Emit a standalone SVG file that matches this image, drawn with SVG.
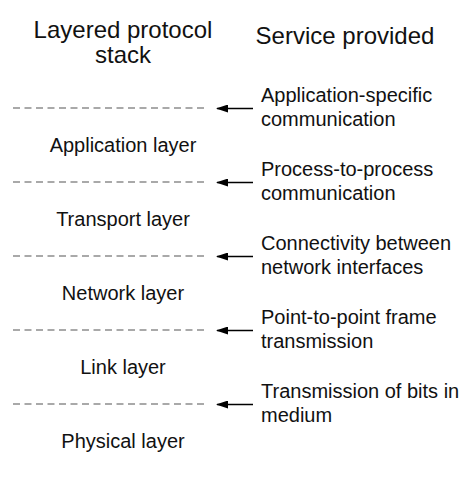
<svg xmlns="http://www.w3.org/2000/svg" width="469" height="477" viewBox="0 0 469 477">
  <defs>
    <style>
      text { font-family: "Liberation Sans", Arial, sans-serif; fill: #111; }
      .head { font-size: 24px; }
      .body { font-size: 20px; }
      .mid { text-anchor: middle; }
      .bound { stroke: #555; stroke-width: 1.2; stroke-dasharray: 7 4.5; fill: none; }
      .arrow { stroke: #000; stroke-width: 1.3; fill: none; marker-end: url(#head); }
    </style>
    <marker id="head" viewBox="0 0 12 8" refX="11" refY="4" markerWidth="12" markerHeight="8" markerUnits="userSpaceOnUse" orient="auto">
      <path d="M0,0 L12,4 L0,8 Z" fill="#000"/>
    </marker>
  </defs>
  <rect width="469" height="477" fill="#fff"/>

  <!-- column headings -->
  <g id="heading-stack">
    <text class="head mid" x="123" y="38">Layered protocol</text>
    <text class="head mid" x="123" y="63">stack</text>
  </g>
  <g id="heading-service">
    <text class="head mid" x="345" y="44">Service provided</text>
  </g>

  <!-- layer boundaries and service arrows -->
  <g id="connectors">
    <line class="bound" x1="13" y1="108" x2="207" y2="108"/>
    <line class="bound" x1="13" y1="182" x2="207" y2="182"/>
    <line class="bound" x1="13" y1="256" x2="207" y2="256"/>
    <line class="bound" x1="13" y1="330" x2="207" y2="330"/>
    <line class="bound" x1="13" y1="404" x2="207" y2="404"/>
    <line class="arrow" x1="253" y1="108.5" x2="217" y2="108.5"/>
    <line class="arrow" x1="253" y1="182.5" x2="217" y2="182.5"/>
    <line class="arrow" x1="253" y1="256.5" x2="217" y2="256.5"/>
    <line class="arrow" x1="253" y1="330.5" x2="217" y2="330.5"/>
    <line class="arrow" x1="253" y1="404.5" x2="217" y2="404.5"/>
  </g>

  <!-- layers -->
  <g id="application-layer"><text class="body mid" x="123" y="152">Application layer</text></g>
  <g id="transport-layer"><text class="body mid" x="123" y="226">Transport layer</text></g>
  <g id="network-layer"><text class="body mid" x="123" y="300">Network layer</text></g>
  <g id="link-layer"><text class="body mid" x="123" y="374">Link layer</text></g>
  <g id="physical-layer"><text class="body mid" x="123" y="448">Physical layer</text></g>

  <!-- services -->
  <g id="service-application">
    <text class="body" x="261" y="102">Application-specific</text>
    <text class="body" x="261" y="126">communication</text>
  </g>
  <g id="service-transport">
    <text class="body" x="261" y="176">Process-to-process</text>
    <text class="body" x="261" y="200">communication</text>
  </g>
  <g id="service-network">
    <text class="body" x="261" y="250">Connectivity between</text>
    <text class="body" x="261" y="274">network interfaces</text>
  </g>
  <g id="service-link">
    <text class="body" x="261" y="324">Point-to-point frame</text>
    <text class="body" x="261" y="348">transmission</text>
  </g>
  <g id="service-physical">
    <text class="body" x="261" y="398">Transmission of bits in</text>
    <text class="body" x="261" y="422">medium</text>
  </g>
</svg>
